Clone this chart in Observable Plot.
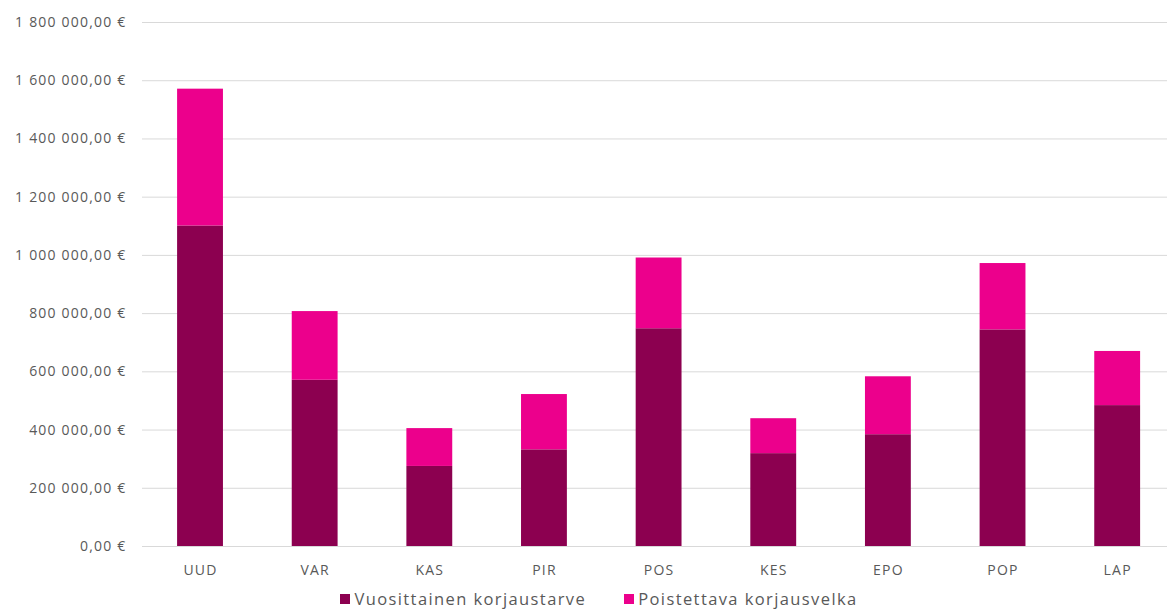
<!DOCTYPE html>
<html>
<head>
<meta charset="utf-8">
<script src="https://cdn.jsdelivr.net/npm/d3@7"></script>
<script src="https://cdn.jsdelivr.net/npm/@observablehq/plot@0.6"></script>
<style>
  html, body { margin: 0; padding: 0; background: #fff; }
  #chart { width: 1167px; }
  .legend { display: flex; justify-content: center; gap: 38px; font-family: "Open Sans", Lato, sans-serif; font-size: 16.5px; letter-spacing: 1.4px; color: #595959; margin-top: 2px; margin-left: 31px; }
  .legend span.item { display: inline-flex; align-items: center; }
  .legend i { display: inline-block; width: 10px; height: 10px; margin-right: 4px; }
</style>
</head>
<body>
<div id="chart"></div>
<script>
const categories = ["UUD", "VAR", "KAS", "PIR", "POS", "KES", "EPO", "POP", "LAP"];
const seriesNames = ["Vuosittainen korjaustarve", "Poistettava korjausvelka"];
const annualNeed = [1101000, 571000, 275000, 332000, 748000, 319000, 384000, 744000, 484000];
const debtToRemove = [470000, 236000, 130000, 190000, 243000, 120000, 199000, 228000, 186000];
const seriesColors = ["#8c0050", "#ec008c"];
const yTicks = [0, 200000, 400000, 600000, 800000, 1000000, 1200000, 1400000, 1600000, 1800000];

const data = [];
categories.forEach((c, i) => {
  data.push({cat: c, series: seriesNames[0], value: annualNeed[i]});
  data.push({cat: c, series: seriesNames[1], value: debtToRemove[i]});
});

const fiLocale = d3.formatLocale({decimal: ",", thousands: "\u00a0", grouping: [3], currency: ["", " €"]});
const fmt = fiLocale.format(",.2f");
const tickFmt = d => fmt(d).replace(/\u00a0/g, " ") + " €";

const chart = Plot.plot({
  width: 1167,
  height: 585,
  marginLeft: 142,
  marginRight: 0,
  marginTop: 22,
  marginBottom: 39,
  style: {fontFamily: "'Open Sans', Lato, sans-serif", fontSize: "14px", color: "#595959", background: "#fff", letterSpacing: "1.2px"},
  x: {type: "band", domain: categories, range: [142.7, 1174.5], paddingInner: 0.6, paddingOuter: 0.3, round: false, label: null},
  y: {domain: [0, 1800000], label: null},
  color: {domain: seriesNames, range: seriesColors},
  marks: [
    Plot.gridY(yTicks, {stroke: "#d9d9d9", strokeOpacity: 1, strokeWidth: 1}),
    Plot.axisY(yTicks, {tickSize: 0, tickPadding: 16, tickFormat: tickFmt, label: null, fontSize: 14, fill: "#595959"}),
    Plot.axisX({tickSize: 0, tickPadding: 19, label: null, fontSize: 14, fill: "#595959"}),
    Plot.barY(data, Plot.stackY({x: "cat", y: "value", fill: "series", order: seriesNames}))
  ]
});
document.getElementById("chart").appendChild(chart);

const legend = document.createElement("div");
legend.className = "legend";
seriesNames.forEach((s, i) => {
  const item = document.createElement("span");
  item.className = "item";
  const sw = document.createElement("i");
  sw.style.background = seriesColors[i];
  item.appendChild(sw);
  item.appendChild(document.createTextNode(s));
  legend.appendChild(item);
});
document.getElementById("chart").appendChild(legend);
</script>
</body>
</html>
